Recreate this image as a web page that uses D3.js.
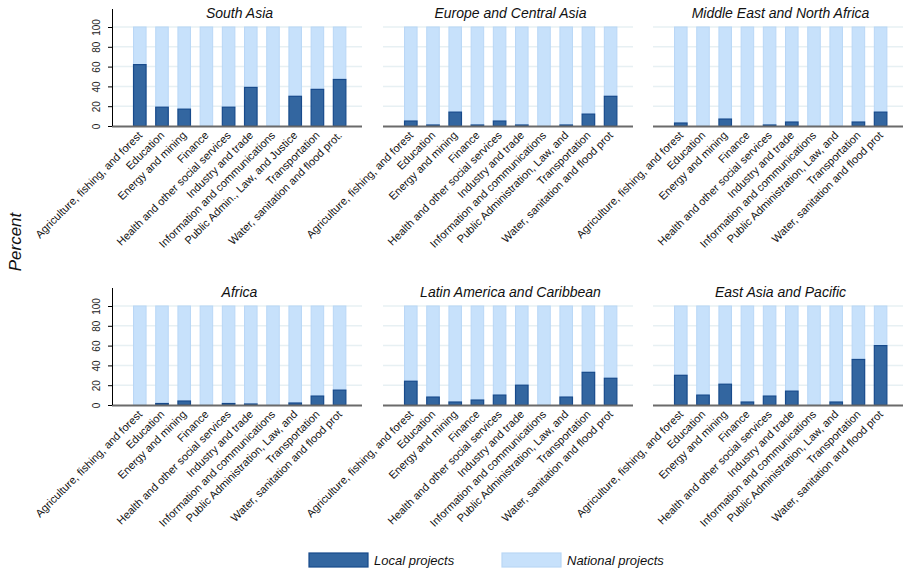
<!DOCTYPE html>
<html>
<head>
<meta charset="utf-8">
<script src="https://cdn.jsdelivr.net/npm/d3@7"></script>
<style>
  html, body { margin: 0; padding: 0; background: #fff; }
  svg { display: block; font-family: "Liberation Sans", Arial, sans-serif; }
</style>
</head>
<body>
<svg id="chart" width="907" height="568"></svg>
<script>
// Sector categories (the South Asia panel uses slightly different wording)
const categories = [
  "Agriculture, fishing, and forest", "Education", "Energy and mining", "Finance",
  "Health and other social services", "Industry and trade", "Information and communications",
  "Public Administration, Law, and", "Transportation", "Water, sanitation and flood prot"
];
const southAsiaLabels = [
  "Agriculture, fishing, and forest", "Education", "Energy and mining", "Finance",
  "Health and other social services", "Industry and trade", "Information and communications",
  "Public Admin., Law, and Justice", "Transportation", "Water, sanitation and flood prot."
];

const regions = [
  "South Asia", "Europe and Central Asia", "Middle East and North Africa",
  "Africa", "Latin America and Caribbean", "East Asia and Pacific"
];

// Share of projects (percent) by sector: local vs national
const localSouthAsia     = [62, 19, 17, 0, 19, 39, 0, 30, 37, 47];
const nationalSouthAsia  = [38, 81, 83, 100, 81, 61, 100, 70, 63, 53];
const localEurope        = [5, 1, 14, 1, 5, 1, 0, 1, 12, 30];
const nationalEurope     = [95, 99, 86, 99, 95, 99, 100, 99, 88, 70];
const localMENA          = [3, 0, 7, 0, 1, 4, 0, 0, 4, 14];
const nationalMENA       = [97, 100, 93, 100, 99, 96, 100, 100, 96, 86];
const localAfrica        = [0, 1.5, 4, 0, 1.5, 1, 0, 2, 9, 15];
const nationalAfrica     = [100, 98.5, 96, 100, 98.5, 99, 100, 98, 91, 85];
const localLatAm         = [24, 8, 3, 5, 10, 20, 0, 8, 33, 27];
const nationalLatAm      = [76, 92, 97, 95, 90, 80, 100, 92, 67, 73];
const localEastAsia      = [30, 10, 21, 3, 9, 14, 0, 3, 46, 60];
const nationalEastAsia   = [70, 90, 79, 97, 91, 86, 100, 97, 54, 40];

const yTicks = [0, 20, 40, 60, 80, 100];
const legendLabels = ["Local projects", "National projects"];

const panels = [
  { name: regions[0], labels: southAsiaLabels, local: localSouthAsia, national: nationalSouthAsia },
  { name: regions[1], labels: categories, local: localEurope, national: nationalEurope },
  { name: regions[2], labels: categories, local: localMENA, national: nationalMENA },
  { name: regions[3], labels: categories, local: localAfrica, national: nationalAfrica },
  { name: regions[4], labels: categories, local: localLatAm, national: nationalLatAm },
  { name: regions[5], labels: categories, local: localEastAsia, national: nationalEastAsia }
];

const darkFill = "#3366a0", darkStroke = "#174a8b";
const lightFill = "#c7e1fb", lightStroke = "#b9d7f6";

const svg = d3.select("#chart");
const colX = [112, 383, 653];
const rowBase = [126, 405];
const panelW = 250, plotH = 99, axisH = 117;

panels.forEach((p, i) => {
  const col = i % 3, row = Math.floor(i / 3);
  const x0 = colX[col], base = rowBase[row];
  const g = svg.append("g");

  const y = d3.scaleLinear().domain([0, 100]).range([base, base - plotH]);
  const x = d3.scaleBand().domain(d3.range(p.local.length))
    .range([x0 + 16.7, x0 + 238.7]).paddingInner(0.39).paddingOuter(0.195);

  // gridlines
  g.selectAll("line.grid").data(yTicks.filter(t => t > 0)).join("line")
    .attr("x1", x0).attr("x2", x0 + panelW)
    .attr("y1", d => y(d)).attr("y2", d => y(d))
    .attr("stroke", "#e7f0f3").attr("stroke-width", 1.5);

  // stacked bars: local at the bottom, national above
  const rows = p.local.map((v, k) => ({ k, local: v, national: p.national[k] }));
  g.selectAll("rect.nat").data(rows).join("rect")
    .attr("x", d => x(d.k) + 0.5).attr("width", x.bandwidth() - 1)
    .attr("y", d => y(d.local + d.national)).attr("height", d => y(d.local) - y(d.local + d.national))
    .attr("fill", lightFill).attr("stroke", lightStroke).attr("stroke-width", 1);
  g.selectAll("rect.loc").data(rows.filter(d => d.local > 0)).join("rect")
    .attr("x", d => x(d.k) + 0.5).attr("width", x.bandwidth() - 1)
    .attr("y", d => y(d.local)).attr("height", d => y(0) - y(d.local))
    .attr("fill", darkFill).attr("stroke", darkStroke).attr("stroke-width", 1.2);

  // baseline
  g.append("line").attr("x1", x0).attr("x2", x0 + panelW)
    .attr("y1", base + 0.5).attr("y2", base + 0.5)
    .attr("stroke", "#6a6a6a").attr("stroke-width", 2);

  // y axis in first column only
  if (col === 0) {
    const ax = g.append("g").attr("transform", `translate(${x0},0)`)
      .call(d3.axisLeft(y).tickValues(yTicks).tickSize(4).tickFormat(d3.format("d")));
    ax.select(".domain").remove();
    ax.selectAll(".tick line").attr("stroke", "#000");
    ax.selectAll(".tick text")
      .attr("x", null).attr("dy", null)
      .attr("transform", "translate(-12,0) rotate(-90)")
      .attr("text-anchor", "middle")
      .attr("font-size", 10).attr("fill", "#222")
      .attr("font-family", "'Liberation Sans', Arial, sans-serif");
    g.append("line").attr("x1", x0 + 0.5).attr("x2", x0 + 0.5)
      .attr("y1", base - axisH).attr("y2", base)
      .attr("stroke", "#000").attr("stroke-width", 1);
  }

  // category labels
  g.selectAll("text.cat").data(rows).join("text")
    .attr("transform", d => `translate(${x(d.k) + x.bandwidth() / 2 + 3},${base + 10}) rotate(-45)`)
    .attr("text-anchor", "end")
    .attr("font-size", 11).attr("fill", "#111")
    .text(d => p.labels[d.k]);

  // panel title
  g.append("text").attr("x", x0 + 127.5).attr("y", base - 108)
    .attr("text-anchor", "middle").attr("font-size", 14).attr("font-style", "italic")
    .attr("fill", "#111").text(p.name);
});

// shared y-axis title
svg.append("text").attr("transform", "translate(21,242) rotate(-90)")
  .attr("text-anchor", "middle").attr("font-size", 17).attr("font-style", "italic")
  .attr("fill", "#111").text("Percent");

// legend
const legend = svg.append("g");
const legendX = [309, 502];
const legendColors = [[darkFill, darkStroke], [lightFill, lightStroke]];
legendLabels.forEach((lab, i) => {
  legend.append("rect").attr("x", legendX[i]).attr("y", 553).attr("width", 59).attr("height", 14)
    .attr("fill", legendColors[i][0]).attr("stroke", legendColors[i][1]).attr("stroke-width", 1.2);
  legend.append("text").attr("x", legendX[i] + 65).attr("y", 565)
    .attr("font-size", 13).attr("font-style", "italic").attr("fill", "#111").text(lab);
});
</script>
</body>
</html>
